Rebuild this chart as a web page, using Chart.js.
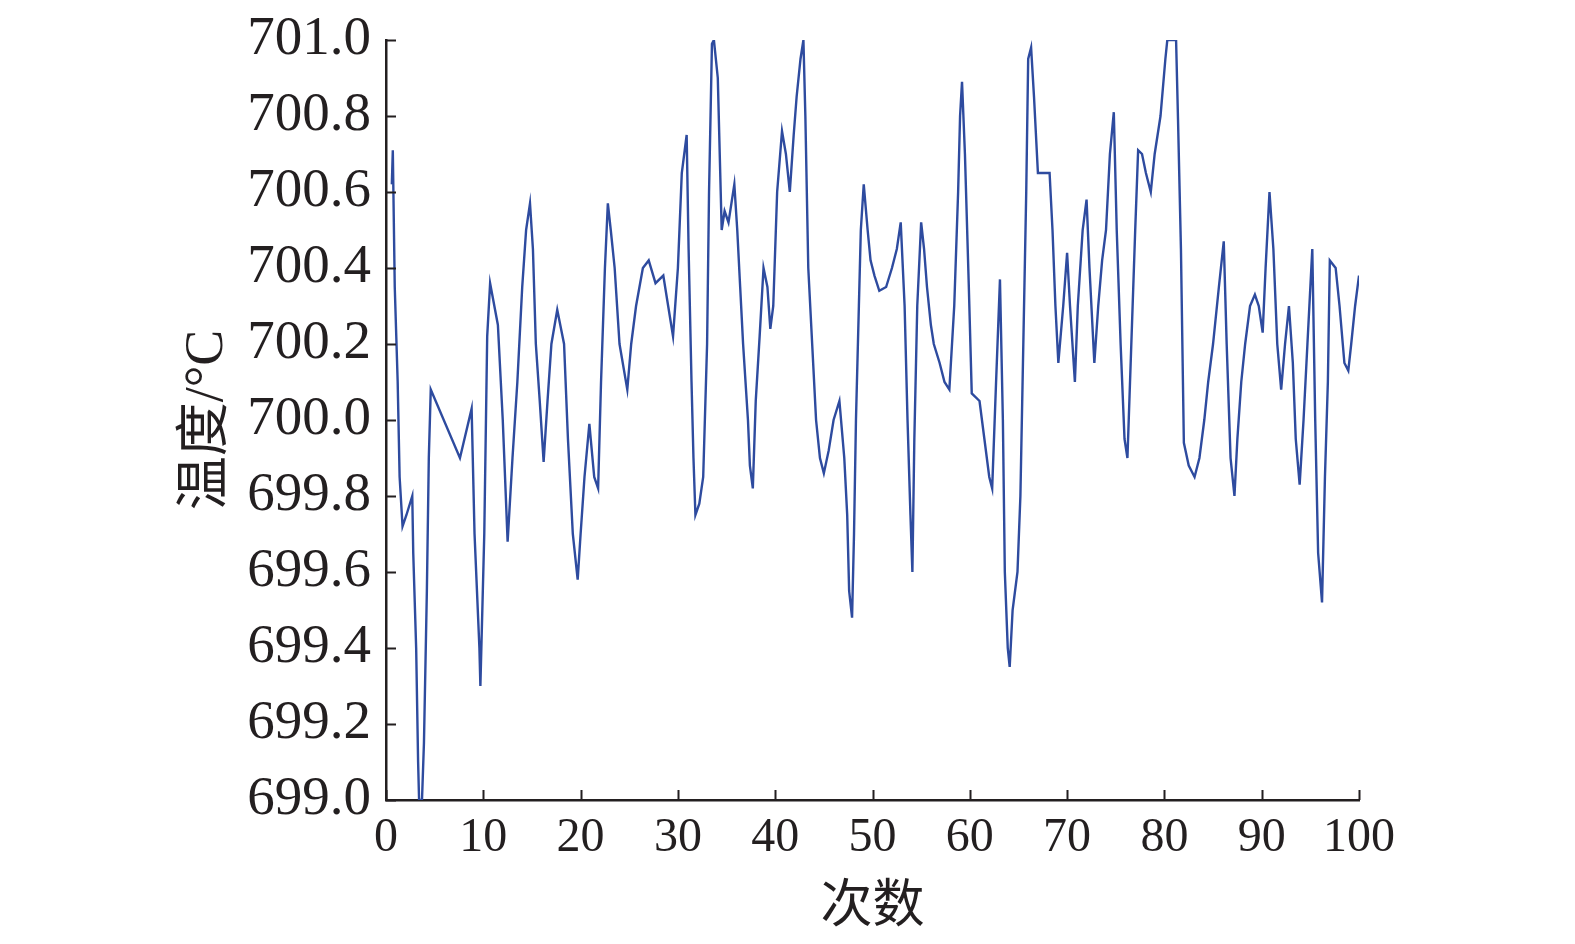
<!DOCTYPE html>
<html>
<head>
<meta charset="utf-8">
<script src="https://cdn.jsdelivr.net/npm/chart.js@4.4.1/dist/chart.umd.min.js"></script>
<style>
    html, body { margin: 0; padding: 0; background: #fff; }
    #wrap { width: 1575px; height: 944px; }
</style>
</head>
<body>
<div id="wrap"><canvas id="temp-chart"></canvas></div>
<script>
// 次数 (x) and 温度 (y)
const runs = [
    0.6, 0.7, 0.9, 1.2, 1.4, 1.7, 2.1, 2.7, 2.8, 3.1, 3.3, 3.4, 3.7, 3.9, 4.2, 4.4, 4.6,
    7.6, 8.8, 9.1, 9.6, 9.7, 10.1, 10.4, 10.7, 11.5, 12.0, 12.5, 13.0, 13.5, 14.0, 14.4,
    14.8, 15.1, 15.4, 15.8, 16.2, 16.6, 17.0, 17.6, 18.3, 18.7, 19.2, 19.7, 20.0, 20.4,
    20.9, 21.4, 21.8, 22.1, 22.5, 22.8, 23.1, 23.5, 24.0, 24.8, 25.2, 25.7, 26.4, 27.0,
    27.7, 28.5, 29.0, 29.5, 30.0, 30.4, 30.9, 31.1, 31.4, 31.6, 31.8, 32.2, 32.6, 33.0,
    33.2, 33.5, 33.7, 34.1, 34.5, 34.8, 35.2, 35.8, 36.1, 36.4, 36.7, 37.2, 37.4, 37.7,
    38.0, 38.4, 38.8, 39.2, 39.5, 39.8, 40.2, 40.7, 41.1, 41.5, 41.9, 42.2, 42.6, 42.9,
    43.1, 43.4, 43.8, 44.2, 44.6, 45.0, 45.5, 46.0, 46.6, 47.1, 47.4, 47.6, 47.9, 48.1,
    48.3, 48.6, 48.8, 49.1, 49.5, 49.8, 50.2, 50.7, 51.4, 52.0, 52.5, 52.9, 53.3, 53.6,
    53.9, 54.1, 54.3, 54.6, 55.0, 55.3, 55.6, 56.0, 56.3, 56.9, 57.4, 57.9, 58.4, 58.8,
    59.0, 59.2, 59.5, 59.9, 60.2, 61.0, 61.5, 62.0, 62.3, 62.7, 63.1, 63.4, 63.6, 63.9,
    64.1, 64.4, 64.9, 65.2, 65.5, 65.8, 66.0, 66.3, 66.6, 67.0, 67.7, 68.2, 68.5, 68.8,
    69.1, 69.6, 70.0, 70.3, 70.8, 71.1, 71.6, 72.0, 72.3, 72.8, 73.2, 73.6, 74.0, 74.4,
    74.8, 75.1, 75.5, 75.9, 76.2, 76.6, 77.0, 77.3, 77.7, 78.1, 78.6, 79.0, 79.6, 80.1,
    80.3, 81.2, 81.4, 81.7, 82.0, 82.5, 83.1, 83.6, 84.1, 84.5, 85.0, 85.6, 86.1, 86.4,
    86.8, 87.2, 87.5, 87.9, 88.3, 88.8, 89.3, 89.7, 90.1, 90.4, 90.8, 91.2, 91.6, 92.0,
    92.4, 92.8, 93.2, 93.5, 93.9, 94.3, 94.7, 95.2, 95.5, 95.8, 96.2, 96.5, 96.8, 97.0,
    97.6, 98.0, 98.5, 98.9, 99.2, 99.6, 100.0
];
const temps = [
    700.62, 700.71, 700.35, 700.10, 699.85, 699.72, 699.75, 699.80, 699.65, 699.40, 699.10, 699.00, 699.00, 699.15, 699.55, 699.90, 700.08,
    699.90, 700.03, 699.70, 699.40, 699.30, 699.70, 700.22, 700.36, 700.25, 700.00, 699.68, 699.90, 700.10, 700.35, 700.50,
    700.57, 700.45, 700.20, 700.05, 699.89, 700.05, 700.20, 700.29, 700.20, 699.95, 699.70, 699.58, 699.70, 699.85,
    699.99, 699.85, 699.82, 700.10, 700.40, 700.57, 700.50, 700.40, 700.20, 700.08, 700.20, 700.30, 700.40, 700.42,
    700.36, 700.38, 700.30, 700.22, 700.40, 700.65, 700.75, 700.45, 700.10, 699.90, 699.75, 699.78, 699.85, 700.20,
    700.60, 700.99, 701.00, 700.90, 700.50, 700.55, 700.52, 700.62, 700.50, 700.35, 700.20, 700.00, 699.88, 699.82,
    700.05, 700.22, 700.40, 700.35, 700.24, 700.30, 700.60, 700.76, 700.70, 700.60, 700.75, 700.85, 700.95, 701.00,
    700.80, 700.40, 700.20, 700.00, 699.90, 699.86, 699.92, 700.00, 700.05, 699.90, 699.75, 699.55, 699.48, 699.70,
    700.00, 700.30, 700.50, 700.62, 700.50, 700.42, 700.38, 700.34, 700.35, 700.40, 700.45, 700.52, 700.30, 700.00,
    699.75, 699.60, 699.95, 700.30, 700.52, 700.45, 700.35, 700.25, 700.20, 700.15, 700.10, 700.08, 700.30, 700.60,
    700.80, 700.89, 700.70, 700.35, 700.07, 700.05, 699.95, 699.85, 699.82, 700.10, 700.37, 700.00, 699.60, 699.40,
    699.35, 699.50, 699.60, 699.80, 700.20, 700.60, 700.95, 700.98, 700.85, 700.65, 700.65, 700.65, 700.50, 700.30,
    700.15, 700.30, 700.44, 700.30, 700.10, 700.30, 700.50, 700.58, 700.40, 700.15, 700.30, 700.42, 700.50, 700.70,
    700.81, 700.50, 700.20, 699.95, 699.90, 700.20, 700.50, 700.71, 700.70, 700.65, 700.60, 700.70, 700.80, 700.95,
    701.00, 701.00, 700.79, 700.45, 699.94, 699.88, 699.85, 699.90, 700.00, 700.10, 700.20, 700.35, 700.47, 700.20,
    699.90, 699.80, 699.95, 700.10, 700.20, 700.30, 700.33, 700.30, 700.23, 700.40, 700.60, 700.45, 700.20, 700.08,
    700.20, 700.30, 700.15, 699.95, 699.83, 700.00, 700.20, 700.45, 700.00, 699.65, 699.52, 699.85, 700.10, 700.42,
    700.40, 700.30, 700.15, 700.13, 700.20, 700.30, 700.38
];
const yTicks = [699.0, 699.2, 699.4, 699.6, 699.8, 700.0, 700.2, 700.4, 700.6, 700.8, 701.0];
const xTicks = [0, 10, 20, 30, 40, 50, 60, 70, 80, 90, 100];

const inkColor = '#231f20';
const lineColor = '#2e4b9f';

// short inward tick marks, like the original figure
const innerTicks = {
    id: 'innerTicks',
    afterDraw(chart) {
        const ctx = chart.ctx;
        const xs = chart.scales.x;
        const ys = chart.scales.y;
        const len = 10;
        ctx.save();
        ctx.strokeStyle = inkColor;
        ctx.lineWidth = 2;
        ctx.beginPath();
        ys.ticks.forEach((t, i) => {
            const py = Math.round(ys.getPixelForTick(i)) + 0.5;
            ctx.moveTo(ys.right, py);
            ctx.lineTo(ys.right + len, py);
        });
        xs.ticks.forEach((t, i) => {
            const px = Math.round(xs.getPixelForTick(i)) + 0.5;
            ctx.moveTo(px, xs.top);
            ctx.lineTo(px, xs.top - len);
        });
        ctx.stroke();
        ctx.restore();
    }
};

const ctx = document.getElementById('temp-chart');
new Chart(ctx, {
    type: 'line',
    data: {
        datasets: [{
            data: runs.map((r, i) => ({ x: r, y: temps[i] })),
            borderColor: lineColor,
            borderWidth: 2.4,
            pointRadius: 0,
            tension: 0,
            fill: false
        }]
    },
    options: {
        responsive: true,
        maintainAspectRatio: false,
        animation: false,
        layout: {
            padding: { left: 175, right: 216, top: 40, bottom: 4 }
        },
        plugins: {
            legend: { display: false },
            tooltip: { enabled: false }
        },
        scales: {
            x: {
                type: 'linear',
                min: 0,
                max: 100,
                afterFit: s => { s.height = 140; s.paddingLeft = 0; s.paddingRight = 0; },
                afterBuildTicks: s => { s.ticks = xTicks.map(v => ({ value: v })); },
                border: { color: inkColor, width: 2.5 },
                grid: { display: true, drawOnChartArea: false, drawTicks: false },
                ticks: {
                    color: inkColor,
                    padding: 10,
                    maxRotation: 0,
                    font: { family: "'Liberation Serif', serif", size: 48 }
                },
                title: {
                    display: true,
                    text: '次数',
                    color: inkColor,
                    padding: 0,
                    font: { family: "'Liberation Serif', 'Noto Sans CJK SC'", size: 52 }
                }
            },
            y: {
                min: 699,
                max: 701,
                afterFit: s => { s.width = 211; s.paddingTop = 0; s.paddingBottom = 0; },
                afterBuildTicks: s => { s.ticks = yTicks.map(v => ({ value: v })); },
                border: { color: inkColor, width: 2.5 },
                grid: { display: true, drawOnChartArea: false, drawTicks: false },
                ticks: {
                    color: inkColor,
                    padding: 15,
                    font: { family: "'Liberation Serif', serif", size: 55 },
                    callback: v => Number(v).toFixed(1)
                },
                title: {
                    display: true,
                    text: '温度/°C',
                    color: inkColor,
                    padding: 0,
                    font: { family: "'Liberation Serif', 'Noto Sans CJK SC'", size: 54 }
                }
            }
        }
    },
    plugins: [innerTicks]
});
</script>
</body>
</html>
